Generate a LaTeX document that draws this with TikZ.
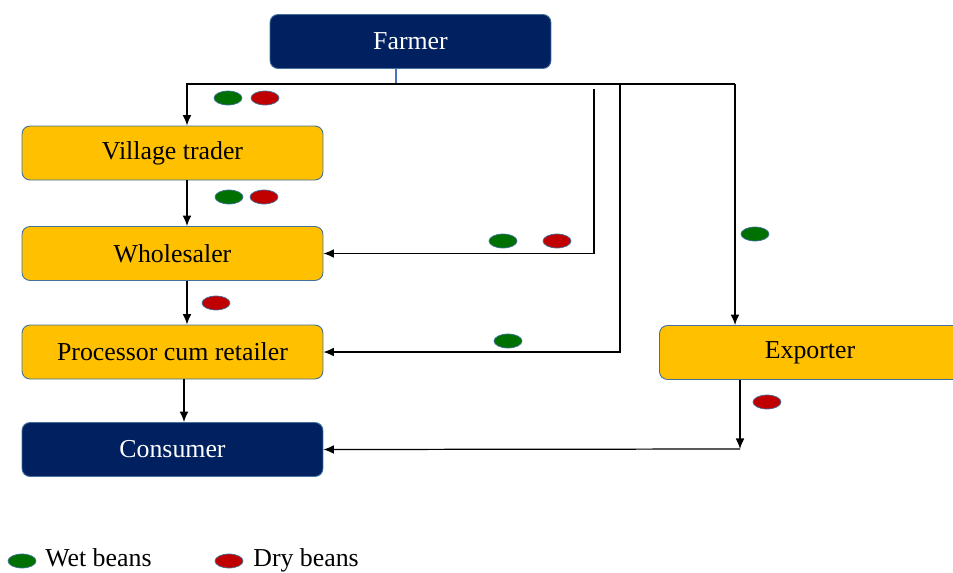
\documentclass[tikz,border=0pt]{standalone}
\usepackage{fontspec}
\setmainfont{Liberation Serif}
\usetikzlibrary{arrows.meta}
\usetikzlibrary{shapes.geometric}
\definecolor{navy}{RGB}{0,32,96}
\definecolor{gold}{RGB}{255,192,0}
\definecolor{edge}{RGB}{65,113,156}
\definecolor{wetgreen}{RGB}{0,112,0}
\definecolor{dryred}{RGB}{192,0,0}
\definecolor{stubblue}{RGB}{68,114,196}
\tikzset{
	actor/.style={draw=edge, line width=.5pt, rounded corners=.16cm,
		minimum width=6.02cm, minimum height=1.08cm, inner sep=0pt,
		font=\fontsize{14.7}{17}\selectfont},
	trader/.style={actor, fill=gold, text=black},
	endpoint/.style={actor, fill=navy, text=white},
	flow/.style={draw=black, line width=.7pt, -{Latex[length=6pt,width=5pt]}},
	plainline/.style={draw=black, line width=.7pt},
	bean/.style={ellipse, draw=edge, line width=.4pt, minimum width=.56cm,
		minimum height=.28cm, inner sep=0pt},
	wet/.style={bean, fill=wetgreen},
	dry/.style={bean, fill=dryred},
	legend/.style={anchor=base west, inner sep=0pt, font=\fontsize{14.7}{17}\selectfont},
}
\begin{document}
\begin{tikzpicture}[x=0.02cm, y=-0.02cm]
	\clip (0,0) rectangle (953,572);

	% the chain of actors
	\node[endpoint, minimum width=5.62cm] (farmer) at (410.5,41.5) {Farmer};
	\node[trader] (village) at (172.5,153) {Village trader};
	\node[trader] (wholesaler) at (172.5,253.5) {Wholesaler};
	\node[trader] (processor) at (172.5,352) {Processor cum retailer};
	\node[endpoint] (consumer) at (172.5,449.5) {Consumer};
	\node[trader] (exporter) at (810,352.5) {Exporter};

	% bends of the farmer's lines
	\coordinate (fork) at (396,84);
	\coordinate (eastend) at (735,84);
	\coordinate (wtop) at (594,89);
	\coordinate (ptop) at (620,84);
	\coordinate (corner) at (740,449);

	\draw[stubblue, line width=.7pt] (farmer.south -| fork) -- (fork);
	\draw[flow] (fork) -| ([xshift=.29cm]village.north);
	\draw[plainline] (fork) -- (eastend);
	\draw[flow] (eastend) -- (eastend |- exporter.north);
	\draw[flow] (wtop) |- (wholesaler.east);
	\draw[flow] (ptop) |- (processor.east);

	% down the chain
	\draw[flow] ([xshift=.29cm]village.south) -- ([xshift=.29cm]wholesaler.north);
	\draw[flow] ([xshift=.29cm]wholesaler.south) -- ([xshift=.29cm]processor.north);
	\draw[flow] ([xshift=.23cm]processor.south) -- ([xshift=.23cm]consumer.north);
	\draw[flow] (exporter.south -| corner) -- (corner);
	\draw[flow] (corner) -- (consumer.east);

	% beans carried on each line
	\node[wet] (w1) at (228,98) {};
	\node[dry] (d1) at (265,98) {};
	\node[wet] (w2) at (229,197) {};
	\node[dry] (d2) at (264,197) {};
	\node[dry] (d3) at (216,303) {};
	\node[wet] (w3) at (503,241) {};
	\node[dry] (d4) at (557,241) {};
	\node[wet] (w4) at (508,341) {};
	\node[wet] (w5) at (755,234) {};
	\node[dry] (d5) at (767,402) {};

	% legend
	\node[wet] (wetkey) at (22,561) {};
	\node[legend] (wettext) at (45,566) {Wet beans};
	\node[dry] (drykey) at (229,561) {};
	\node[legend] (drytext) at (253,566) {Dry beans};
\end{tikzpicture}
\end{document}
